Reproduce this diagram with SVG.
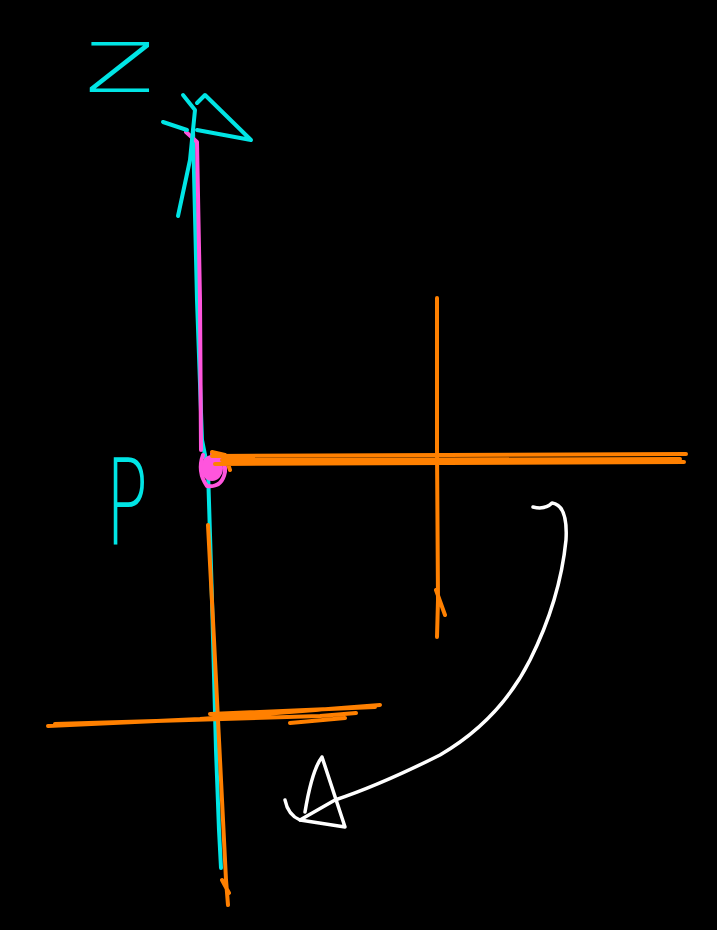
<svg xmlns="http://www.w3.org/2000/svg" width="717" height="930" viewBox="0 0 717 930">
<style>
.c{fill:none;stroke:#00e5e5;stroke-width:4;stroke-linecap:round;stroke-linejoin:round}
.o{fill:none;stroke:#ff8000;stroke-width:4;stroke-linecap:round;stroke-linejoin:round}
.w{fill:none;stroke:#ffffff;stroke-width:3.5;stroke-linecap:round;stroke-linejoin:round}
.p{fill:none;stroke:#ff55dd;stroke-width:4;stroke-linecap:round;stroke-linejoin:round}
.lbl{fill:#00e5e5;font-family:"DejaVu Sans",sans-serif;font-weight:200}
</style>
<rect width="717" height="930" fill="#000"/>
<g id="connectors">
<path class="c" d="M193,130 L197,300 L202,440 L208,470 L212,600 L216,750 L219,830 L221,868"/>
<path class="p" d="M186,132 L197,142 L200,300 L201,450"/>
<ellipse cx="212" cy="468" rx="11" ry="13" fill="#ff55dd"/>
<path class="p" d="M203,455 Q197,472 207,486 Q222,488 225,472 Q226,456 212,454" stroke-width="5"/>
<path class="o" d="M212,456 L686,454 M215,464 L684,462 M222,460 L680,459 M212,452 L225,455 L230,470"/>
<path class="o" d="M437,298 L437,450 L438,600 L437,637 M436,590 L445,615"/>
<path class="o" d="M208,525 L214,640 L220,760 L226,880 L228,905 M222,880 L229,893"/>
<path class="o" d="M48,726 L200,719 L380,705 M55,724 L320,716 L356,713 M210,714 L375,707 M290,723 L345,718" stroke-width="5"/>
<path class="w" d="M533,507 Q545,510 552,503 Q568,505 566,540 Q560,600 530,660 Q500,720 440,755 Q380,785 335,800 L300,820"/>
<path class="w" d="M285,800 Q288,815 300,820 L345,827 L322,757 Q312,770 305,812"/>
<path class="c" d="M178,216 L190,160 L193,130 M163,122 L187,130 M183,95 L195,110 L193,130 M197,103 L205,95 L251,140 L197,130"/>
</g>
<g id="label-z">
<text class="lbl" x="84" y="92" font-size="90" transform="translate(84,92) scale(1.5,1) translate(-84,-92)">z</text>
</g>
<g id="label-P">
<text class="lbl" x="105" y="545" font-size="160" transform="translate(105,545) scale(0.45,0.75) translate(-105,-545)">P</text>
</g>
</svg>
